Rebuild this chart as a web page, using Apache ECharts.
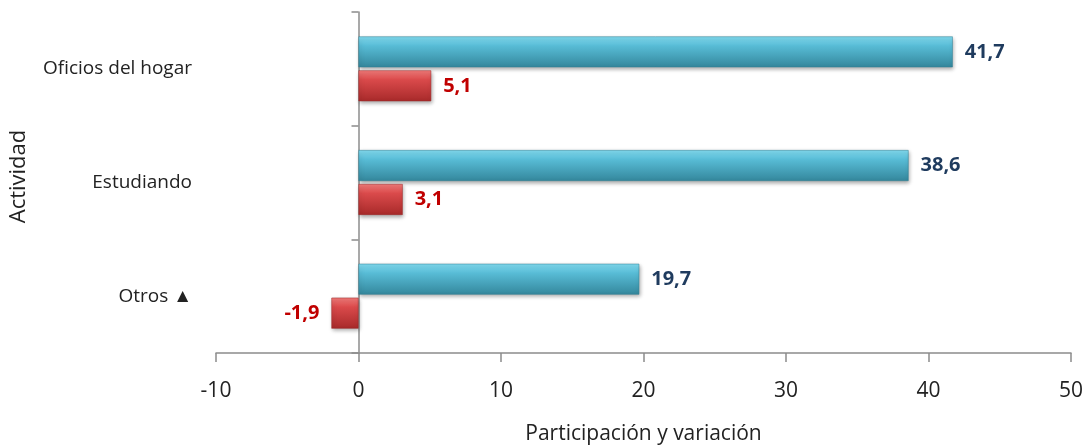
<!DOCTYPE html>
<html>
<head>
<meta charset="utf-8">
<script src="https://cdn.jsdelivr.net/npm/echarts@6/dist/echarts.min.js"></script>
<style>
  html, body { margin: 0; padding: 0; background: #ffffff; }
  #chart { width: 1089px; height: 446px; }
</style>
</head>
<body>
<div id="chart"></div>
<script>
// Activity categories, top to bottom
const categories = ['Oficios del hogar', 'Estudiando', 'Otros ▲'];
// Share of each activity (%)
const participacion = [41.7, 38.6, 19.7];
// Change versus previous period (percentage points)
const variacion = [5.1, 3.1, -1.9];
// Value axis ticks
const xMin = -10, xMax = 50, xStep = 10;

const FONT = "'Open Sans', sans-serif";
const fmt = v => v.toFixed(1).replace('.', ',');

const blueFill = new echarts.graphic.LinearGradient(0, 0, 0, 1, [
  { offset: 0, color: '#82dbf0' },
  { offset: 0.3, color: '#58bcd6' },
  { offset: 1, color: '#34879c' }
]);
const redFill = new echarts.graphic.LinearGradient(0, 0, 0, 1, [
  { offset: 0, color: '#f27c7a' },
  { offset: 0.3, color: '#da4a4b' },
  { offset: 1, color: '#a82a2a' }
]);

const chart = echarts.init(document.getElementById('chart'));
chart.setOption({
  animation: false,
  grid: { left: 216, right: 18, top: 12, bottom: 93, outerBoundsMode: 'none' },
  xAxis: {
    type: 'value',
    min: xMin, max: xMax, interval: xStep,
    name: 'Participación y variación',
    nameLocation: 'middle',
    nameGap: 71,
    nameTextStyle: { fontFamily: FONT, fontSize: 21, color: '#222' },
    axisLine: { show: true, lineStyle: { color: '#8c8c8c', width: 1.5 } },
    axisTick: { show: true, length: 9, lineStyle: { color: '#8c8c8c', width: 1.5 } },
    axisLabel: { fontFamily: FONT, fontSize: 21, color: '#222', margin: 28 },
    splitLine: { show: false }
  },
  yAxis: [
    {
      type: 'category',
      data: categories,
      inverse: true,
      name: 'Actividad',
      nameLocation: 'middle',
      nameGap: 186,
      nameRotate: 90,
      nameTextStyle: { fontFamily: FONT, fontSize: 22, color: '#222', padding: [0, 0, 0, 12] },
      axisLine: { show: false },
      axisTick: { show: false },
      axisLabel: { fontFamily: FONT, fontSize: 19, color: '#222', margin: 24 }
    },
    {
      // zero line with category boundary ticks
      type: 'category',
      data: categories,
      inverse: true,
      position: 'left',
      offset: -142.5,
      axisLine: { show: true, lineStyle: { color: '#8c8c8c', width: 1.5 } },
      axisTick: { show: true, length: 7, lineStyle: { color: '#8c8c8c', width: 1.5 } },
      axisLabel: { show: false }
    }
  ],
  series: [
    {
      name: 'Participación',
      type: 'bar',
      yAxisIndex: 0,
      data: participacion,
      barCategoryGap: '43%',
      barGap: '10%',
      itemStyle: {
        color: blueFill,
        borderColor: '#2f7f93',
        borderWidth: 0.5,
        shadowColor: 'rgba(0,0,0,0.35)',
        shadowBlur: 4,
        shadowOffsetX: 1,
        shadowOffsetY: 2
      },
      label: {
        show: true,
        position: 'right',
        distance: 12,
        formatter: p => fmt(p.value),
        fontFamily: FONT, fontSize: 20, fontWeight: 'bold', color: '#1f3b5e'
      }
    },
    {
      name: 'Variación',
      type: 'bar',
      yAxisIndex: 0,
      data: variacion.map(v => ({
        value: v,
        label: { position: v < 0 ? 'left' : 'right' }
      })),
      barCategoryGap: '43%',
      barGap: '10%',
      itemStyle: {
        color: redFill,
        borderColor: '#9c2626',
        borderWidth: 0.5,
        shadowColor: 'rgba(0,0,0,0.35)',
        shadowBlur: 4,
        shadowOffsetX: 1,
        shadowOffsetY: 2
      },
      label: {
        show: true,
        distance: 12,
        formatter: p => fmt(p.value),
        fontFamily: FONT, fontSize: 20, fontWeight: 'bold', color: '#c00000'
      }
    }
  ]
});
</script>
</body>
</html>
